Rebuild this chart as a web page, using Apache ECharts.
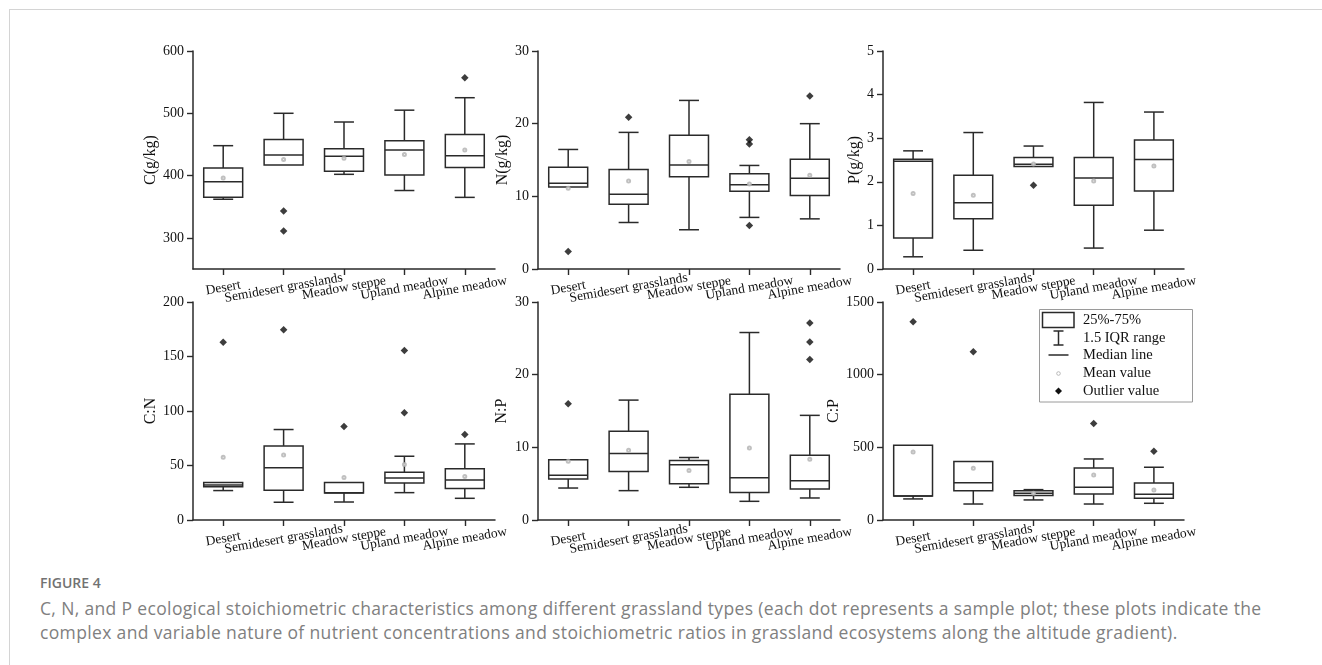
<!DOCTYPE html>
<html><head><meta charset="utf-8">
<script src="https://cdn.jsdelivr.net/npm/echarts@6/dist/echarts.min.js"></script>
<style>
body{margin:0;background:#fff;width:1322px;height:665px;overflow:hidden;position:relative}
#frame{position:absolute;left:9px;top:9px;right:0;bottom:0;border-top:1px solid #d4d4d4;border-left:1px solid #d4d4d4}
#chart{position:absolute;left:0;top:0;width:1322px;height:560px}
#cap{position:absolute;left:40px;top:573px;width:1250px;font-family:'Open Sans';color:#808080}
#cap .fig{font-size:14px;line-height:20px;font-weight:600;color:#727272;margin-bottom:3px}
#cap .txt{font-size:17.5px;line-height:24px;letter-spacing:0.35px}
</style></head>
<body>
<div id="frame"></div>
<div id="chart"></div>
<div id="cap"><div class="fig">FIGURE 4</div><div class="txt">C, N, and P ecological stoichiometric characteristics among different grassland types (each dot represents a sample plot; these plots indicate the complex and variable nature of nutrient concentrations and stoichiometric ratios in grassland ecosystems along the altitude gradient).</div></div>
<script>
const categories = ['Desert', 'Semidesert grasslands', 'Meadow steppe', 'Upland meadow', 'Alpine meadow'];
// box values: [low whisker, Q1, median, Q3, high whisker]
const cBox = [[362,365,390,412,448],[417,417,433,458,500],[402,407,431,443,486],[376,401,441,456,505],[365,413,432,466,525]];
const cMean = [396,426,428,434,441];
const cOutliers = [[1,343],[1,311],[4,557]];
const nBox = [[11.3,11.3,11.8,14.0,16.45],[6.4,8.9,10.3,13.7,18.8],[5.4,12.7,14.3,18.4,23.2],[7.1,10.7,11.6,13.1,14.25],[6.9,10.1,12.5,15.1,20.0]];
const nMean = [11.1,12.1,14.8,11.7,12.9];
const nOutliers = [[0,2.4],[1,20.9],[3,17.8],[3,17.2],[3,6.0],[4,23.8]];
const pBox = [[0.28,0.71,2.47,2.52,2.71],[0.43,1.15,1.52,2.15,3.13],[2.35,2.35,2.40,2.56,2.82],[0.48,1.46,2.09,2.56,3.82],[0.89,1.79,2.51,2.96,3.60]];
const pMean = [1.73,1.69,2.41,2.02,2.36];
const pOutliers = [[2,1.92]];
const cnBox = [[27,30.6,32,34.3,34.3],[16.3,27.3,48,68,83],[16.5,24.8,25,34.3,34.3],[25.1,34,38.6,43.8,58.5],[19.9,28.8,36.7,47.1,69.8]];
const cnMean = [57.6,59.7,38.9,51,39.8];
const cnOutliers = [[0,163],[1,174.5],[2,85.7],[3,155.5],[3,98.3],[4,78.4]];
const npBox = [[4.4,5.65,6.15,8.3,8.3],[4.04,6.66,9.14,12.2,16.5],[4.5,5.0,7.6,8.18,8.6],[2.57,3.8,5.83,17.3,25.8],[3.03,4.27,5.4,8.9,14.4]];
const npMean = [8.1,9.6,6.8,9.9,8.36];
const npOutliers = [[0,16.0],[4,27.1],[4,24.5],[4,22.1]];
const cpBox = [[145,165,165,514,514],[110,202,257,402,402],[138,168,184,202,209],[110,179,225,358,420],[115,149,177,255,363]];
const cpMean = [468,356,184,310,207];
const cpOutliers = [[0,1364],[1,1157],[3,664],[4,473]];

const yNames = ['C(g/kg)', 'N(g/kg)', 'P(g/kg)', 'C:N', 'N:P', 'C:P'];
const yMin = [250, 0, 0, 0, 0, 0];
const yMax = [600, 30, 5, 200, 30, 1500];
const yTicks = [[300,400,500,600],[0,10,20,30],[0,1,2,3,4,5],[0,50,100,150,200],[0,10,20,30],[0,500,1000,1500]];
const panels = [
  [cBox, cMean, cOutliers], [nBox, nMean, nOutliers], [pBox, pMean, pOutliers],
  [cnBox, cnMean, cnOutliers], [npBox, npMean, npOutliers], [cpBox, cpMean, cpOutliers]
];

const LINE = '#2a2a2a';
const gridLeft = [193, 538, 883];
const gridTop = [51, 302];
const nameGaps = [33, 26, 15, 33, 28, 38];

function renderBox(params, api) {
  const i = api.value(0);
  const lo = api.coord([i, api.value(1)]);
  const q1 = api.coord([i, api.value(2)]);
  const md = api.coord([i, api.value(3)]);
  const q3 = api.coord([i, api.value(4)]);
  const hi = api.coord([i, api.value(5)]);
  const band = api.size([1, 0])[0];
  const bw = band * 0.645, cw = band * 0.33;
  const cx = lo[0];
  const st = {stroke: LINE, lineWidth: 1.5, fill: null};
  const ch = [];
  const line = (x1, y1, x2, y2) => ch.push({type: 'line', shape: {x1, y1, x2, y2}, style: st});
  if (hi[1] < q3[1] - 0.5) { line(cx, q3[1], cx, hi[1]); line(cx - cw/2, hi[1], cx + cw/2, hi[1]); }
  if (lo[1] > q1[1] + 0.5) { line(cx, q1[1], cx, lo[1]); line(cx - cw/2, lo[1], cx + cw/2, lo[1]); }
  ch.push({type: 'rect', shape: {x: cx - bw/2, y: q3[1], width: bw, height: q1[1] - q3[1]}, style: {stroke: LINE, lineWidth: 1.5, fill: 'rgba(0,0,0,0)'}});
  line(cx - bw/2, md[1], cx + bw/2, md[1]);
  return {type: 'group', children: ch};
}

const grid = [], xAxis = [], yAxis = [], series = [];
for (let k = 0; k < 6; k++) {
  const r = Math.floor(k / 3), c = k % 3;
  grid.push({left: gridLeft[c], top: gridTop[r], width: c === 2 ? 301 : 302, height: 218});
  xAxis.push({
    type: 'category', gridIndex: k, data: categories, boundaryGap: true,
    axisLine: {show: true, lineStyle: {color: LINE, width: 1.5}},
    axisTick: {show: true, alignWithLabel: true, length: 6, lineStyle: {color: LINE, width: 1.4}},
    axisLabel: {rotate: 10, align: 'center', verticalAlign: 'middle', margin: 19, fontSize: 13.5, color: '#111', interval: 0, fontFamily: 'Liberation Serif'},
    splitLine: {show: false}
  });
  yAxis.push({
    type: 'value', gridIndex: k, min: yMin[k], max: yMax[k],
    name: yNames[k], nameLocation: 'middle', nameGap: nameGaps[k], nameRotate: 90,
    nameTextStyle: {fontSize: 16, color: '#111', fontFamily: 'Liberation Serif'},
    axisLine: {show: true, lineStyle: {color: LINE, width: 1.5}},
    axisTick: {show: true, length: 6, customValues: yTicks[k], lineStyle: {color: LINE, width: 1.4}},
    axisLabel: {margin: 9, fontSize: 14, color: '#111', customValues: yTicks[k], fontFamily: 'Liberation Serif', formatter: v => String(v)},
    splitLine: {show: false}
  });
  const [box, mean, outl] = panels[k];
  series.push({
    type: 'custom', xAxisIndex: k, yAxisIndex: k, renderItem: renderBox, silent: true, clip: false,
    encode: {x: 0, y: [1, 2, 3, 4, 5]},
    data: box.map((b, i) => [i].concat(b))
  });
  series.push({
    type: 'scatter', xAxisIndex: k, yAxisIndex: k, symbol: 'emptyCircle', symbolSize: 3, silent: true,
    itemStyle: {color: '#b0b0b0', borderColor: '#b0b0b0', borderWidth: 0.7},
    data: mean.map((m, i) => [i, m]), z: 3
  });
  series.push({
    type: 'scatter', xAxisIndex: k, yAxisIndex: k, symbol: 'diamond', symbolSize: 7.5, silent: true,
    itemStyle: {color: '#0d0d0d'}, data: outl, z: 3
  });
}

const LX = 1058.5;
const legendGraphic = [
  {type: 'rect', shape: {x: 1039.5, y: 309.5, width: 153, height: 92.5}, style: {stroke: '#9a9a9a', lineWidth: 1, fill: '#fff'}, z: 10},
  {type: 'rect', shape: {x: 1042.5, y: 312.5, width: 31.5, height: 15}, style: {stroke: LINE, lineWidth: 1.5, fill: null}, z: 11},
  {type: 'line', shape: {x1: LX, y1: 331, x2: LX, y2: 345}, style: {stroke: LINE, lineWidth: 1.5}, z: 11},
  {type: 'line', shape: {x1: LX - 5, y1: 331, x2: LX + 5, y2: 331}, style: {stroke: LINE, lineWidth: 1.5}, z: 11},
  {type: 'line', shape: {x1: LX - 5, y1: 345, x2: LX + 5, y2: 345}, style: {stroke: LINE, lineWidth: 1.5}, z: 11},
  {type: 'line', shape: {x1: 1048.5, y1: 355, x2: 1068.5, y2: 355}, style: {stroke: LINE, lineWidth: 1.5}, z: 11},
  {type: 'circle', shape: {cx: LX, cy: 373.5, r: 1.8}, style: {stroke: '#a8a8a8', lineWidth: 0.8, fill: null}, z: 11},
  {type: 'polygon', shape: {points: [[LX, 387.5], [LX + 3.5, 391], [LX, 394.5], [LX - 3.5, 391]]}, style: {fill: '#111'}, z: 11}
];
const legendTexts = ['25%-75%', '1.5 IQR range', 'Median line', 'Mean value', 'Outlier value'];
const legendY = [320, 337.7, 355, 373, 390.7];
legendTexts.forEach((t, i) => legendGraphic.push({
  type: 'text', x: 1083, y: legendY[i], z: 11,
  style: {text: t, fontSize: 14.5, fontFamily: 'Liberation Serif', fill: '#111', verticalAlign: 'middle', align: 'left'}
}));

const chart = echarts.init(document.getElementById('chart'), null, {renderer: 'canvas'});
chart.setOption({
  animation: false,
  textStyle: {fontFamily: 'Liberation Serif'},
  grid, xAxis, yAxis, series,
  graphic: legendGraphic
});
</script>
</body></html>
